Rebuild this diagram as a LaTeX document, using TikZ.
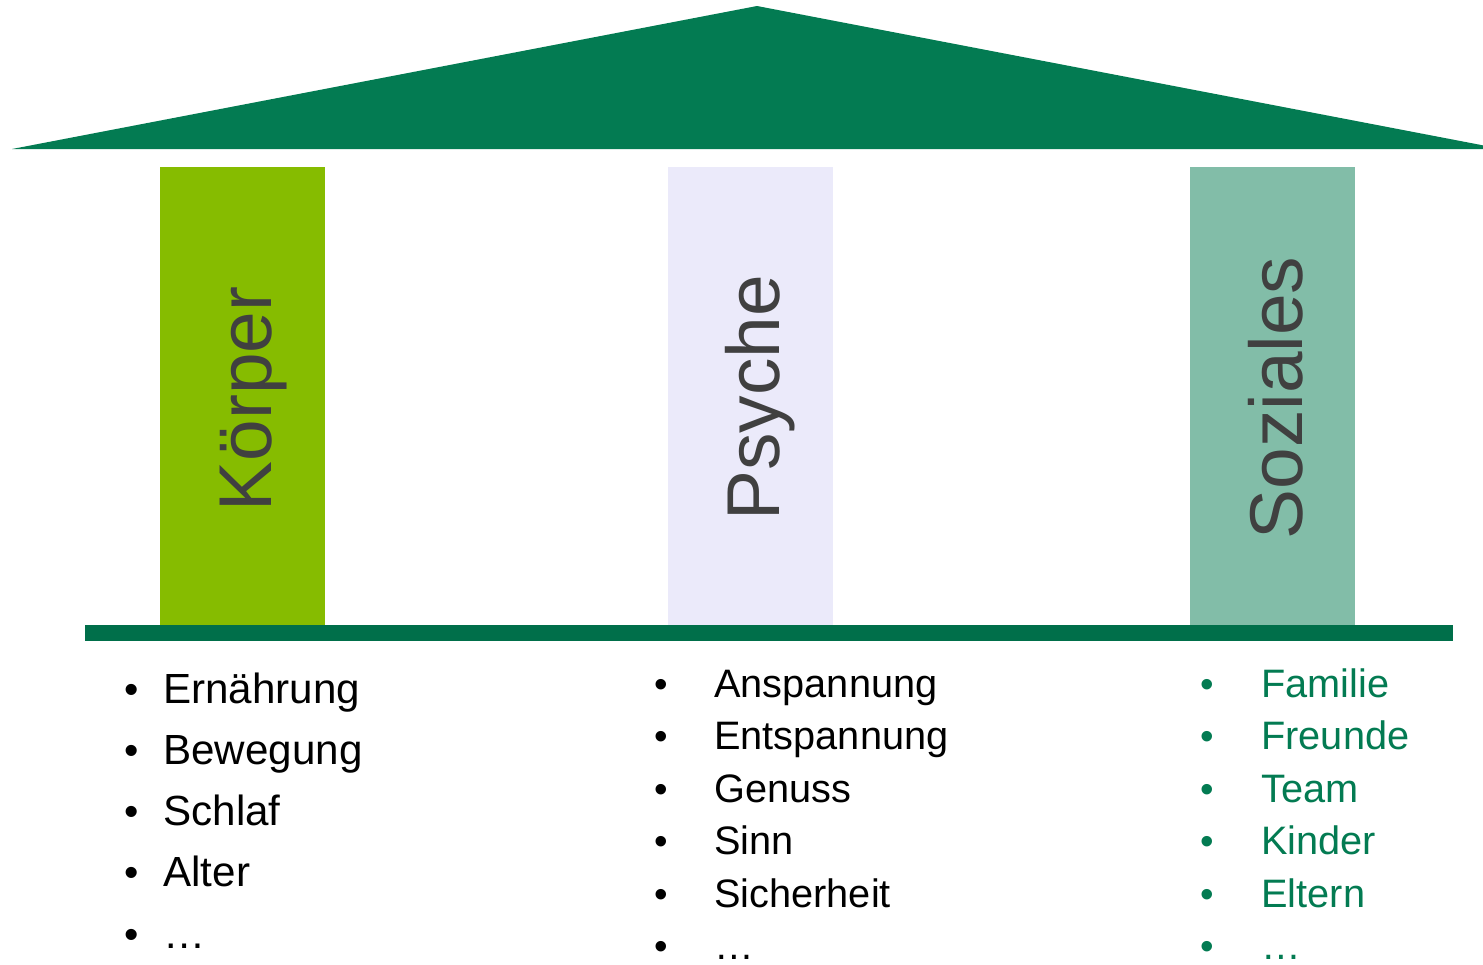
\documentclass[tikz,border=0pt]{standalone}
\usepackage{fontspec}
\setmainfont{Liberation Sans}
\usetikzlibrary{positioning}
\definecolor{roofgreen}{HTML}{037B52}
\definecolor{basegreen}{HTML}{006F4A}
\definecolor{koerpergreen}{HTML}{86BC00}
\definecolor{psychelilac}{HTML}{EBEAFA}
\definecolor{sozialgreen}{HTML}{82BDA8}
\definecolor{labelgray}{HTML}{404040}
\tikzset{%
  every pillar/.style={
    rectangle,
    draw=none,
    inner sep=0pt,
    minimum width=3.3cm,
    minimum height=9.16cm
  },
  pillar label/.style={
    rotate=90,
    anchor=base,
    inner sep=0pt,
    text=labelgray,
    font=\fontsize{42.6}{50}\selectfont
  },
  list item/.style={
    anchor=base west,
    inner sep=0pt
  },
  list bullet/.style={
    anchor=base,
    inner sep=0pt
  },
}

\begin{document}
\begin{tikzpicture}[x=0.02cm, y=-0.02cm]
        \useasboundingbox (0,0) rectangle (1483,964);
        \fill[roofgreen] (12,149) -- (757,6) -- (1502,149) -- cycle;

        \foreach \m/\c/\x in {koerper/koerpergreen/242.5,psyche/psychelilac/750.5,soziales/sozialgreen/1272.5}
            \node [every pillar/.try, fill=\c] (pillar-\m) at (\x,396) {};
        \fill[basegreen] (85,625) rectangle (1453,641);

        \node [pillar label] (label-koerper) at (271,399) {Körper};
        \node [pillar label] (label-psyche) at (779,398) {Psyche};
        \node [pillar label] (label-soziales) at (1302,398) {Soziales};

        \foreach \l [count=\y] in {Ernährung,Bewegung,Schlaf,Alter,…}
          {
            \node [list bullet, font=\fontsize{23.3}{28}\selectfont] (koerper-bullet-\y) at (132,{703+61.3*(\y-1)}) {•};
            \node [list item, font=\fontsize{24}{28}\selectfont] (koerper-\y) at (163,{703+61.3*(\y-1)}) {\l};
          }
        \foreach \l [count=\y] in {Anspannung,Entspannung,Genuss,Sinn,Sicherheit,…}
          {
            \node [list bullet, font=\fontsize{22}{26}\selectfont] (psyche-bullet-\y) at (661,{697+52.5*(\y-1)}) {•};
            \node [list item, font=\fontsize{22.6}{26}\selectfont] (psyche-\y) at (714,{697+52.5*(\y-1)}) {\l};
          }
        \foreach \l [count=\y] in {Familie,Freunde,Team,Kinder,Eltern,…}
          {
            \node [list bullet, text=roofgreen, font=\fontsize{22}{26}\selectfont] (soziales-bullet-\y) at (1207,{697+52.5*(\y-1)}) {•};
            \node [list item, text=roofgreen, font=\fontsize{22.6}{26}\selectfont] (soziales-\y) at (1261,{697+52.5*(\y-1)}) {\l};
          }
\end{tikzpicture}
\end{document}
